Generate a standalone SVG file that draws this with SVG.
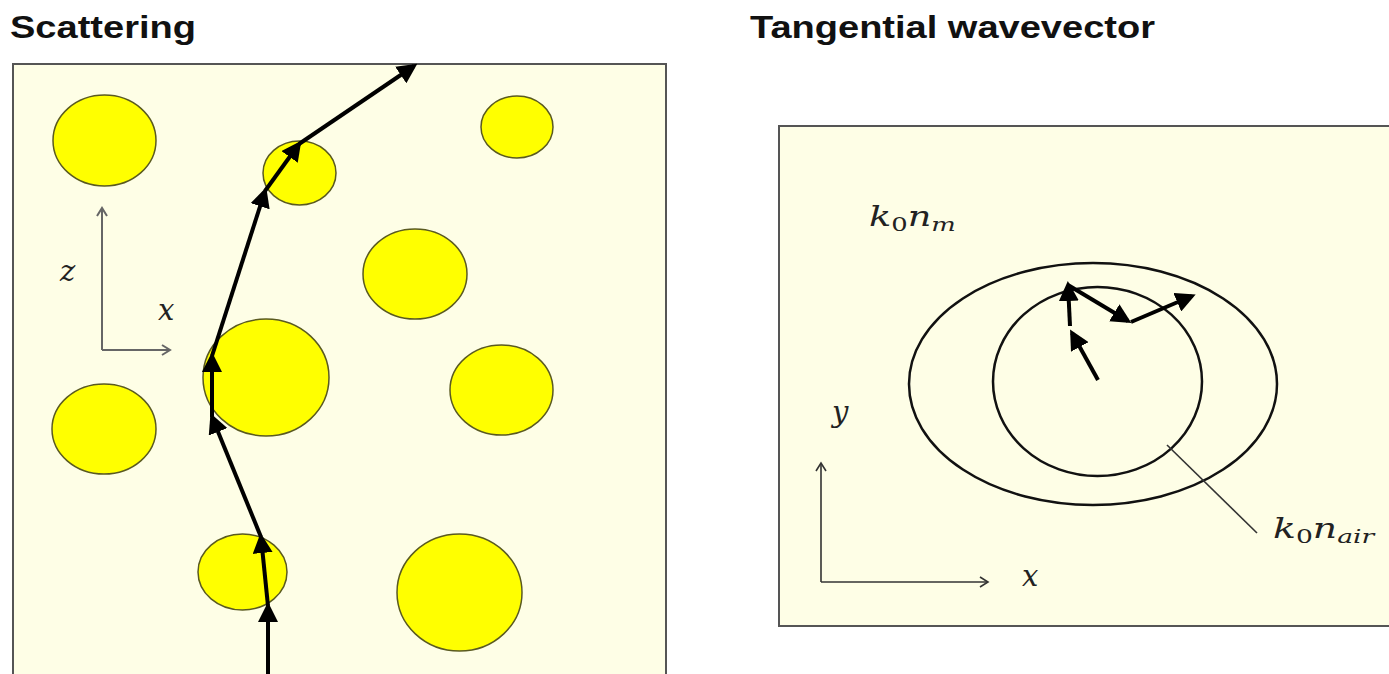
<svg xmlns="http://www.w3.org/2000/svg" width="1389" height="674" viewBox="0 0 1389 674">
<style>
.title{font-family:"Liberation Sans",Arial,sans-serif;font-weight:bold;font-size:31px;fill:#111}
.math{font-family:"DejaVu Serif","Liberation Serif",serif;font-style:italic;font-size:29px;fill:#222}
.lbl{font-family:"DejaVu Serif","Liberation Serif",serif;font-style:italic;font-size:27px;fill:#222}
.sub{font-size:19px}
.up{font-style:normal}
.panel{fill:#FEFEE6;stroke:#555;stroke-width:2}
.p{fill:#FFFF00;stroke:#5a5a20;stroke-width:1.5}
.ray{fill:none;stroke:#000;stroke-width:4;marker-end:url(#ah)}
.axis{fill:none;stroke:#666;stroke-width:2;marker-end:url(#oa)}
.axis2{fill:none;stroke:#333;stroke-width:1.6;marker-end:url(#oa2)}
.ring{fill:none;stroke:#111;stroke-width:2.5}
</style>
<defs>
<marker id="ah" markerWidth="5" markerHeight="5" refX="4" refY="2.5" orient="auto" markerUnits="strokeWidth"><path d="M0,0 L5,2.5 L0,5 Z" fill="#000"/></marker>
<marker id="oa" markerWidth="12" markerHeight="12" refX="10" refY="6" orient="auto" markerUnits="userSpaceOnUse"><path d="M2,1 L10,6 L2,11" fill="none" stroke="#666" stroke-width="2"/></marker>
<marker id="oa2" markerWidth="12" markerHeight="12" refX="10" refY="6" orient="auto" markerUnits="userSpaceOnUse"><path d="M2,1 L10,6 L2,11" fill="none" stroke="#333" stroke-width="1.6"/></marker>
</defs>
<rect width="1389" height="674" fill="#fff"/>
<text class="title" x="10" y="38" textLength="186" lengthAdjust="spacingAndGlyphs">Scattering</text>
<text class="title" x="750" y="38" textLength="405" lengthAdjust="spacingAndGlyphs">Tangential wavevector</text>

<g id="left-panel">
<rect class="panel" x="13" y="64" width="653" height="620"/>
</g>
<g id="particles">
<ellipse id="p1" class="p" cx="104.5" cy="140.5" rx="51.5" ry="45.5"/>
<ellipse id="p2" class="p" cx="517" cy="127" rx="36" ry="31"/>
<ellipse id="p3" class="p" cx="299.5" cy="173" rx="36.5" ry="32"/>
<ellipse id="p4" class="p" cx="415" cy="274" rx="52" ry="45"/>
<ellipse id="p5" class="p" cx="266" cy="377.5" rx="63" ry="58.5"/>
<ellipse id="p6" class="p" cx="501.5" cy="390" rx="51.5" ry="45"/>
<ellipse id="p7" class="p" cx="104" cy="429" rx="52" ry="45"/>
<ellipse id="p8" class="p" cx="242.5" cy="572" rx="44.5" ry="38"/>
<ellipse id="p9" class="p" cx="459.5" cy="592.5" rx="62.5" ry="58.5"/>
</g>
<g id="left-axes">
<path class="axis" d="M102,350 L102,208"/>
<path class="axis" d="M102,350 L170,350"/>
<text class="math" x="60" y="281">z</text>
<text class="math" x="158" y="320">x</text>
</g>
<g id="connectors-ray">
<path class="ray" d="M268,674 L268,606"/>
<path class="ray" d="M268,606 L261,537"/>
<path class="ray" d="M261,537 L212,417"/>
<path class="ray" d="M212,417 L212,356"/>
<path class="ray" d="M212,356 L265,191"/>
<path class="ray" d="M265,191 L299,144"/>
<path class="ray" d="M299,144 L414,66"/>
</g>

<g id="right-panel">
<rect class="panel" x="779" y="126" width="612" height="500"/>
</g>
<g id="rings">
<ellipse id="outer" class="ring" cx="1093" cy="384" rx="184" ry="121"/>
<ellipse id="inner" class="ring" cx="1097.5" cy="381.5" rx="104.5" ry="94.5"/>
</g>
<g id="right-axes">
<path class="axis2" d="M821,582 L821,463"/>
<path class="axis2" d="M821,582 L988,582"/>
<text class="math" x="832" y="422">y</text>
<text class="math" x="1022" y="586">x</text>
</g>
<g id="labels">
<text class="lbl" transform="translate(869,226) scale(1.36,1)">k<tspan class="sub up" dy="5">0</tspan><tspan dy="-5">n</tspan><tspan class="sub" dy="5">m</tspan></text>
<text class="lbl" transform="translate(1273,538) scale(1.4,1)">k<tspan class="sub up" dy="5">0</tspan><tspan dy="-5">n</tspan><tspan class="sub" dy="5">air</tspan></text>
</g>
<g id="connectors-wavevector">
<path class="ray" d="M1098,380 L1072,333"/>
<path class="ray" d="M1070,326 L1068,285"/>
<path class="ray" d="M1068,285 L1128,321"/>
<path class="ray" d="M1131,322 L1192,296"/>
<path d="M1167,445 L1257,533" fill="none" stroke="#333" stroke-width="1.6"/>
</g>
</svg>
